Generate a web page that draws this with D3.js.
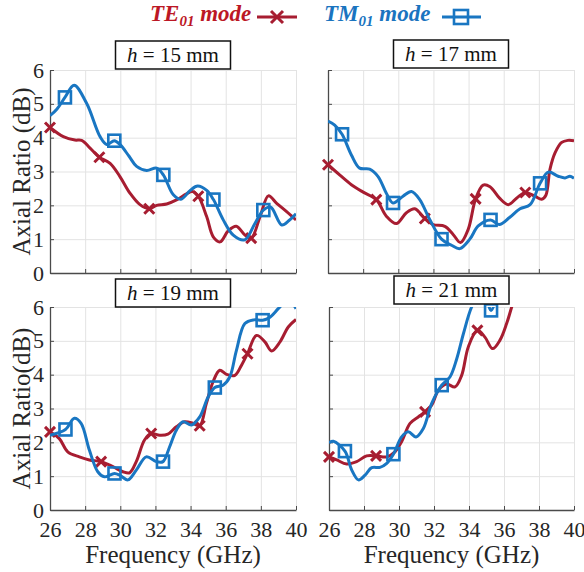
<!DOCTYPE html>
<html><head><meta charset="utf-8">
<script src="https://cdn.jsdelivr.net/npm/d3@7"></script>
<style>
body{margin:0;background:#fff}
svg{display:block}
</style>
</head><body>
<svg id="c" width="584" height="572"></svg>
<script>
// ---------- data ----------
const xTicks = [26, 28, 30, 32, 34, 36, 38, 40];
const yTicks = [0, 1, 2, 3, 4, 5, 6];
const heights = ["15", "17", "19", "21"];
const seriesNames = ["TE", "TM"];

// h = 15 mm
const h15_te_f = [26,26.76,27.42,27.8,28.28,28.81,29.42,29.98,30.55,31.12,31.65,32.07,32.64,33.2,33.77,34.1,34.44,34.92,35.29,35.68,36.15,36.6,37.1,37.45,37.95,38.43,38.9,39.45,40];
const h15_te_v = [4.3,4.03,3.93,3.92,3.69,3.42,3.24,2.85,2.36,2.02,1.9,2.0,2.04,2.16,2.34,2.41,2.27,1.66,1.07,0.92,1.25,1.38,1.12,1.03,1.66,2.28,2.06,1.82,1.57];
const h15_te_mf = [26,28.81,31.65,34.44,37.45];
const h15_te_mv = [4.3,3.42,1.9,2.27,1.03];
const h15_tm_f = [26,26.4,26.85,27.37,28.09,28.85,29.23,29.66,29.98,30.5,30.93,31.5,32.07,32.45,33.02,33.45,34.0,34.4,34.92,35.3,35.86,36.43,37.08,37.67,38.14,38.55,39.19,39.6,40];
const h15_tm_v = [4.65,4.85,5.19,5.55,5.01,4.03,3.8,3.91,3.8,3.45,3.15,3.03,3.1,2.9,2.31,2.18,2.45,2.57,2.44,2.17,1.57,1.12,0.98,1.47,1.86,1.95,1.42,1.55,1.75];
const h15_tm_mf = [26.85,29.66,32.45,35.3,38.14];
const h15_tm_mv = [5.19,3.91,2.9,2.17,1.86];

// h = 17 mm
const h17_te_f = [26,26.66,27.33,28.0,28.75,29.32,29.89,30.46,30.94,31.51,31.98,32.65,33.12,33.54,33.98,34.4,34.83,35.22,35.75,36.26,36.73,37.23,37.78,38.16,38.4,38.63,38.92,39.3,39.65,40];
const h17_te_v = [3.2,2.9,2.61,2.39,2.17,1.68,1.46,1.78,1.9,1.61,1.43,1.38,1.14,0.9,1.29,2.19,2.6,2.55,2.22,2.02,2.21,2.38,2.27,2.18,2.3,3.06,3.55,3.86,3.92,3.91];
const h17_te_mf = [26,28.75,31.51,34.4,37.23];
const h17_te_mv = [3.2,2.17,1.61,2.19,2.38];
const h17_tm_f = [26,26.38,26.8,27.33,27.8,28.37,28.85,29.32,29.7,30.27,30.75,31.22,31.79,32.46,33.03,33.5,34.07,34.55,35.25,35.75,36.33,36.93,37.5,38.07,38.54,39.1,39.49,39.77,40];
const h17_tm_v = [4.49,4.37,4.1,3.49,3.1,3.07,2.85,2.36,2.07,2.27,2.41,2.17,1.58,1.0,0.82,0.72,1.0,1.39,1.57,1.43,1.64,1.9,2.02,2.65,2.98,2.86,2.81,2.86,2.8];
const h17_tm_mf = [26.8,29.7,32.46,35.25,38.07];
const h17_tm_mv = [4.1,2.07,1.0,1.57,2.65];

// h = 19 mm
const h19_te_f = [26,26.53,27.01,27.67,28.24,28.91,29.58,30.15,30.53,30.91,31.38,31.76,32.24,32.71,33.19,33.67,34.14,34.52,34.9,35.28,35.66,36.04,36.52,36.9,37.24,37.75,38.23,38.61,39.09,39.56,40];
const h19_te_v = [2.31,2.11,1.72,1.57,1.48,1.43,1.28,1.13,1.1,1.43,2.07,2.26,2.21,2.24,2.46,2.61,2.56,2.49,3.15,3.79,4.13,4.01,3.98,4.28,4.62,5.16,4.97,4.7,4.97,5.41,5.63];
const h19_te_mf = [26,28.91,31.76,34.52,37.24];
const h19_te_mv = [2.31,1.43,2.26,2.49,4.62];
const h19_tm_f = [26,26.88,27.39,27.77,28.24,28.72,29.1,29.67,30.0,30.43,30.91,31.48,32.05,32.43,32.81,33.19,33.57,34.05,34.52,35.0,35.38,35.85,36.23,36.61,37.09,37.6,38.1,38.52,38.99,39.4,39.75,40];
const h19_tm_v = [2.21,2.38,2.71,2.56,1.77,1.13,0.98,1.08,1.02,0.89,1.18,1.57,1.43,1.43,1.87,2.36,2.61,2.51,2.75,3.34,3.62,3.69,3.93,4.72,5.51,5.62,5.61,5.7,5.95,6.15,6.12,5.95];
const h19_tm_mf = [26.88,29.67,32.43,35.38,38.1];
const h19_tm_mv = [2.38,1.08,1.43,3.62,5.61];

// h = 21 mm
const h21_te_f = [26,26.44,27.01,27.58,28.15,28.69,29.3,29.77,30.15,30.63,31.1,31.49,31.87,32.25,32.72,33.2,33.58,33.96,34.48,34.91,35.35,35.77,36.15,36.44,36.8,37.3];
const h21_te_v = [1.57,1.48,1.36,1.43,1.6,1.6,1.57,1.72,2.02,2.56,2.75,2.9,3.1,3.54,3.72,3.64,3.98,4.82,5.31,5.11,4.77,5.02,5.51,6.0,6.6,7.2];
const h21_te_mf = [26,28.69,31.49,34.48];
const h21_te_mv = [1.57,1.6,2.9,5.31];
const h21_tm_f = [26,26.25,26.91,27.3,27.68,28.06,28.44,28.91,29.3,29.68,30.15,30.53,30.97,31.39,31.87,32.44,32.91,33.3,33.68,34.15,34.6,35.0,35.26,35.6,36.0];
const h21_tm_v = [1.99,2.03,1.74,1.18,0.89,1.03,1.25,1.26,1.38,1.65,2.16,2.31,2.16,2.41,3.15,3.69,3.93,4.47,5.21,6.0,6.4,6.2,5.9,6.3,6.9];
const h21_tm_mf = [26.91,29.68,32.44,35.26];
const h21_tm_mv = [1.74,1.65,3.69,5.9];

// ---------- layout / style ----------
const FONT = "'Liberation Serif'";
const RED = "#A71D31", BLUE = "#1976C2";
const RED_TXT = "#BC1725", BLUE_TXT = "#1A74BF";
const layout = [
  {x0:50,  x1:296, y0:70,  y1:273, boxTop:41,  xLabels:false, yLabels:true},
  {x0:328, x1:574, y0:70,  y1:273, boxTop:40,  xLabels:false, yLabels:false},
  {x0:50,  x1:296, y0:307, y1:510, boxTop:279, xLabels:true,  yLabels:true},
  {x0:329, x1:574, y0:307, y1:510, boxTop:276, xLabels:true,  yLabels:false}
];
const panelData = [
  [h15_te_f,h15_te_v,h15_te_mf,h15_te_mv,h15_tm_f,h15_tm_v,h15_tm_mf,h15_tm_mv],
  [h17_te_f,h17_te_v,h17_te_mf,h17_te_mv,h17_tm_f,h17_tm_v,h17_tm_mf,h17_tm_mv],
  [h19_te_f,h19_te_v,h19_te_mf,h19_te_mv,h19_tm_f,h19_tm_v,h19_tm_mf,h19_tm_mv],
  [h21_te_f,h21_te_v,h21_te_mf,h21_te_mv,h21_tm_f,h21_tm_v,h21_tm_mf,h21_tm_mv]
];

const svg = d3.select("#c");
const defs = svg.append("defs");

function xMark(g, x, y, s, color){
  g.append("path").attr("d",`M${x-s},${y-s}L${x+s},${y+s}M${x-s},${y+s}L${x+s},${y-s}`)
   .attr("stroke",color).attr("stroke-width",3).attr("fill","none").attr("stroke-linecap","butt");
}
function sqMark(g, x, y, s, color){
  g.append("rect").attr("x",x-s).attr("y",y-s).attr("width",2*s).attr("height",2*s)
   .attr("stroke",color).attr("stroke-width",2.6).attr("fill","none");
}

layout.forEach((L, i) => {
  const [tef, tev, temf, temv, tmf, tmv, tmmf, tmmv] = panelData[i];
  const x = d3.scaleLinear().domain([26,40]).range([L.x0, L.x1]);
  const y = d3.scaleLinear().domain([0,6]).range([L.y1, L.y0]);
  const g = svg.append("g");

  // grid
  g.append("g").attr("transform",`translate(0,${L.y1})`)
    .call(d3.axisBottom(x).tickValues(xTicks).tickSize(-(L.y1-L.y0)).tickFormat(""))
    .call(a => a.select(".domain").remove())
    .call(a => a.selectAll("line").attr("stroke","#e3e3e3").attr("stroke-width",1));
  g.append("g").attr("transform",`translate(${L.x0},0)`)
    .call(d3.axisLeft(y).tickValues(yTicks).tickSize(-(L.x1-L.x0)).tickFormat(""))
    .call(a => a.select(".domain").remove())
    .call(a => a.selectAll("line").attr("stroke","#e3e3e3").attr("stroke-width",1));

  // axes (inward ticks)
  const ax = g.append("g").attr("transform",`translate(0,${L.y1})`)
    .call(d3.axisBottom(x).tickValues(xTicks).tickSizeInner(-4).tickSizeOuter(0).tickPadding(11)
      .tickFormat(L.xLabels ? d3.format("d") : ""));
  ax.attr("font-family", FONT);
  ax.select(".domain").attr("stroke","#4a4a4a").attr("stroke-width",1.3);
  ax.selectAll("line").attr("stroke","#4a4a4a");
  ax.selectAll("text").attr("font-family", FONT).attr("font-size",22).attr("fill","#262626");
  const ay = g.append("g").attr("transform",`translate(${L.x0},0)`)
    .call(d3.axisLeft(y).tickValues(yTicks).tickSizeInner(-4).tickSizeOuter(0).tickPadding(6)
      .tickFormat(L.yLabels ? d3.format("d") : ""));
  ay.attr("font-family", FONT);
  ay.select(".domain").attr("stroke","#4a4a4a").attr("stroke-width",1.3);
  ay.selectAll("line").attr("stroke","#4a4a4a");
  ay.selectAll("text").attr("font-family", FONT).attr("font-size",22).attr("fill","#262626");

  // clip
  const cid = "clip"+i;
  defs.append("clipPath").attr("id",cid).append("rect")
    .attr("x",L.x0).attr("y",L.y0).attr("width",L.x1-L.x0).attr("height",L.y1-L.y0);

  const line = d3.line().x(d=>x(d[0])).y(d=>y(d[1])).curve(d3.curveCatmullRom.alpha(0.5));
  const te = tef.map((f,k)=>[f,tev[k]]);
  const tm = tmf.map((f,k)=>[f,tmv[k]]);

  g.append("path").attr("clip-path",`url(#${cid})`).datum(te).attr("d",line)
    .attr("fill","none").attr("stroke",RED).attr("stroke-width",3).attr("stroke-linejoin","round");
  temf.forEach((f,k)=>xMark(g, x(f), y(temv[k]), 5, RED));

  g.append("path").attr("clip-path",`url(#${cid})`).datum(tm).attr("d",line)
    .attr("fill","none").attr("stroke",BLUE).attr("stroke-width",3).attr("stroke-linejoin","round");
  tmmf.forEach((f,k)=>sqMark(g, x(f), y(tmmv[k]), 6, BLUE));

  // title box
  const cx = (L.x0+L.x1)/2;
  const bw = 115, bh = 28;
  g.append("rect").attr("x",cx-bw/2).attr("y",L.boxTop).attr("width",bw).attr("height",bh)
    .attr("fill","#fff").attr("stroke","#111").attr("stroke-width",1.5);
  const t = g.append("text").attr("x",cx).attr("y",L.boxTop+21).attr("text-anchor","middle")
    .attr("font-family", FONT).attr("font-size",21).attr("fill","#111");
  t.append("tspan").attr("font-style","italic").text("h");
  t.append("tspan").text(` = ${heights[i]} mm`);

  // axis labels
  if (L.yLabels){
    svg.append("text").attr("transform",`translate(30,${(L.y0+L.y1)/2}) rotate(-90)`)
      .attr("text-anchor","middle").attr("font-family", FONT).attr("font-size",25).attr("fill","#262626")
      .text(i===0 ? "Axial Ratio (dB)" : "Axial Ratio(dB)");
  }
  if (L.xLabels){
    svg.append("text").attr("x",cx).attr("y",563).attr("text-anchor","middle")
      .attr("font-family", FONT).attr("font-size",25).attr("fill","#262626").text("Frequency (GHz)");
  }
});

// ---------- legend ----------
function legendText(xs, name, color){
  const t = svg.append("text").attr("x",xs).attr("y",21).attr("font-family", FONT).attr("font-size",23)
    .attr("font-weight","bold").attr("font-style","italic").attr("fill",color);
  t.append("tspan").text(name);
  t.append("tspan").attr("font-size",15).attr("dy",5).text("01");
  t.append("tspan").attr("dy",-5).text(" mode");
  return t;
}
legendText(150, seriesNames[0], RED_TXT);
svg.append("line").attr("x1",257).attr("x2",297).attr("y1",17).attr("y2",17).attr("stroke",RED).attr("stroke-width",3);
xMark(svg, 277, 17, 6, RED);
legendText(324, seriesNames[1], BLUE_TXT);
svg.append("line").attr("x1",442).attr("x2",481).attr("y1",17).attr("y2",17).attr("stroke",BLUE).attr("stroke-width",3);
sqMark(svg, 461, 17, 7, BLUE);
</script>
</body></html>
